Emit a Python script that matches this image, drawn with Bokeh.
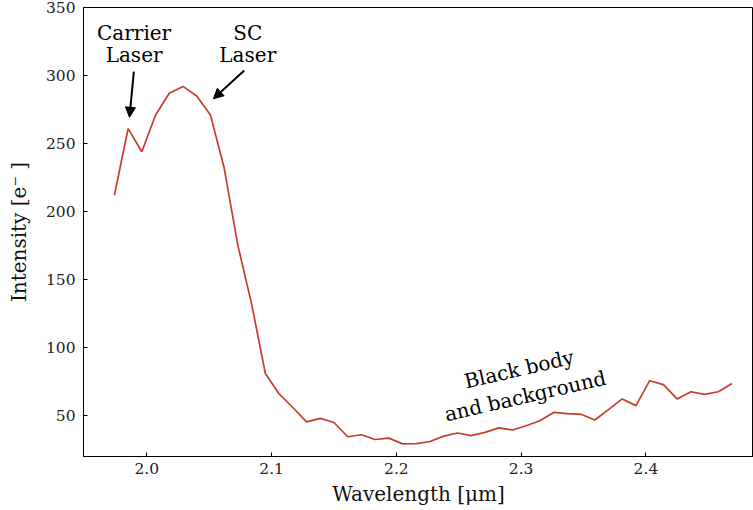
from bokeh.plotting import figure
from bokeh.models import Range1d, FixedTicker, Arrow, NormalHead, ColumnDataSource
from bokeh.core.properties import value
from bokeh.embed import file_html
from bokeh.resources import INLINE

wavelength = [1.974, 1.985, 1.996, 2.007, 2.018, 2.029, 2.040, 2.051, 2.062, 2.073,
              2.084, 2.095, 2.106, 2.117, 2.128, 2.139, 2.150, 2.161, 2.172, 2.183,
              2.194, 2.205, 2.216, 2.227, 2.238, 2.249, 2.260, 2.271, 2.282, 2.293,
              2.304, 2.315, 2.326, 2.337, 2.348, 2.359, 2.370, 2.381, 2.392, 2.403,
              2.414, 2.425, 2.436, 2.447, 2.458, 2.469]
intensity = [212, 261, 244, 271, 287, 292, 285, 271, 232, 175,
             132, 81, 66, 56, 45.5, 48, 45, 34.5, 36, 32.5,
             33.5, 29.3, 29.5, 31, 35, 37.3, 35.3, 37.7, 41, 39.5,
             42.6, 46.3, 52.4, 51.5, 51, 46.8, 54.5, 62.3, 57.4, 75.7,
             72.8, 62.3, 67.6, 65.7, 67.6, 73.7]
x_ticks = [2.0, 2.1, 2.2, 2.3, 2.4]
y_ticks = [50, 100, 150, 200, 250, 300, 350]

FONT = "DejaVu Serif"

p = figure(width=753, height=510, output_backend="svg", toolbar_location=None,
           x_range=Range1d(1.94925, 2.4862), y_range=Range1d(20, 350),
           min_border_left=83, min_border_right=0, min_border_top=7, min_border_bottom=54)
p.grid.visible = False
p.outline_line_color = "black"
p.outline_line_width = 1
p.background_fill_color = "white"
p.border_fill_color = "white"

p.line(wavelength, intensity, line_color="#c83c2c", line_width=1.7)

for ax in (p.xaxis[0], p.yaxis[0]):
    ax.major_tick_in = 4
    ax.major_tick_out = 0
    ax.minor_tick_in = 0
    ax.minor_tick_out = 0
    ax.axis_line_color = "black"
    ax.major_tick_line_color = "black"
    ax.major_label_text_font = FONT
    ax.major_label_text_font_size = "15.5px"
    ax.major_label_text_color = "#222222"
    ax.axis_label_text_font = FONT
    ax.axis_label_text_font_size = "20px"
    ax.axis_label_text_font_style = "normal"
    ax.axis_label_text_color = "#111111"

p.xaxis.ticker = FixedTicker(ticks=x_ticks)
p.yaxis.ticker = FixedTicker(ticks=y_ticks)
p.xaxis.major_label_overrides = {t: f"{t:.1f}" for t in x_ticks}
p.xaxis.axis_label = "Wavelength [μm]"
p.yaxis.axis_label = "Intensity [e⁻ ]"
p.xaxis.major_label_standoff = 6
p.yaxis.major_label_standoff = 8
p.xaxis.axis_label_standoff = 5
p.yaxis.axis_label_standoff = 12

# annotations
ann = ColumnDataSource(dict(
    x=[1.9898, 1.9898, 2.0809, 2.0809],
    y=[331.6, 314.8, 331.6, 314.8],
    t=["Carrier", "Laser", "SC", "Laser"],
))
p.text(x="x", y="y", text="t", source=ann, text_font=value(FONT), text_font_size="20px",
       text_align="center", text_baseline="alphabetic", text_color="black")

p.text(x=[2.3008], y=[74.3], text=["Black body\nand background"], angle=13, angle_units="deg",
       text_font=value(FONT), text_font_size="20px", text_align="center",
       text_baseline="middle", text_color="black", text_line_height=1.15)

for (x0, y0, x1, y1) in [(1.9896, 302.9, 1.9861, 269.3), (2.0781, 303.7, 2.0533, 282.9)]:
    p.add_layout(Arrow(x_start=x0, y_start=y0, x_end=x1, y_end=y1, line_width=2,
                       line_color="black",
                       end=NormalHead(size=10, fill_color="black", line_color="black")))

open("out.html", "w").write(file_html(p, INLINE))
